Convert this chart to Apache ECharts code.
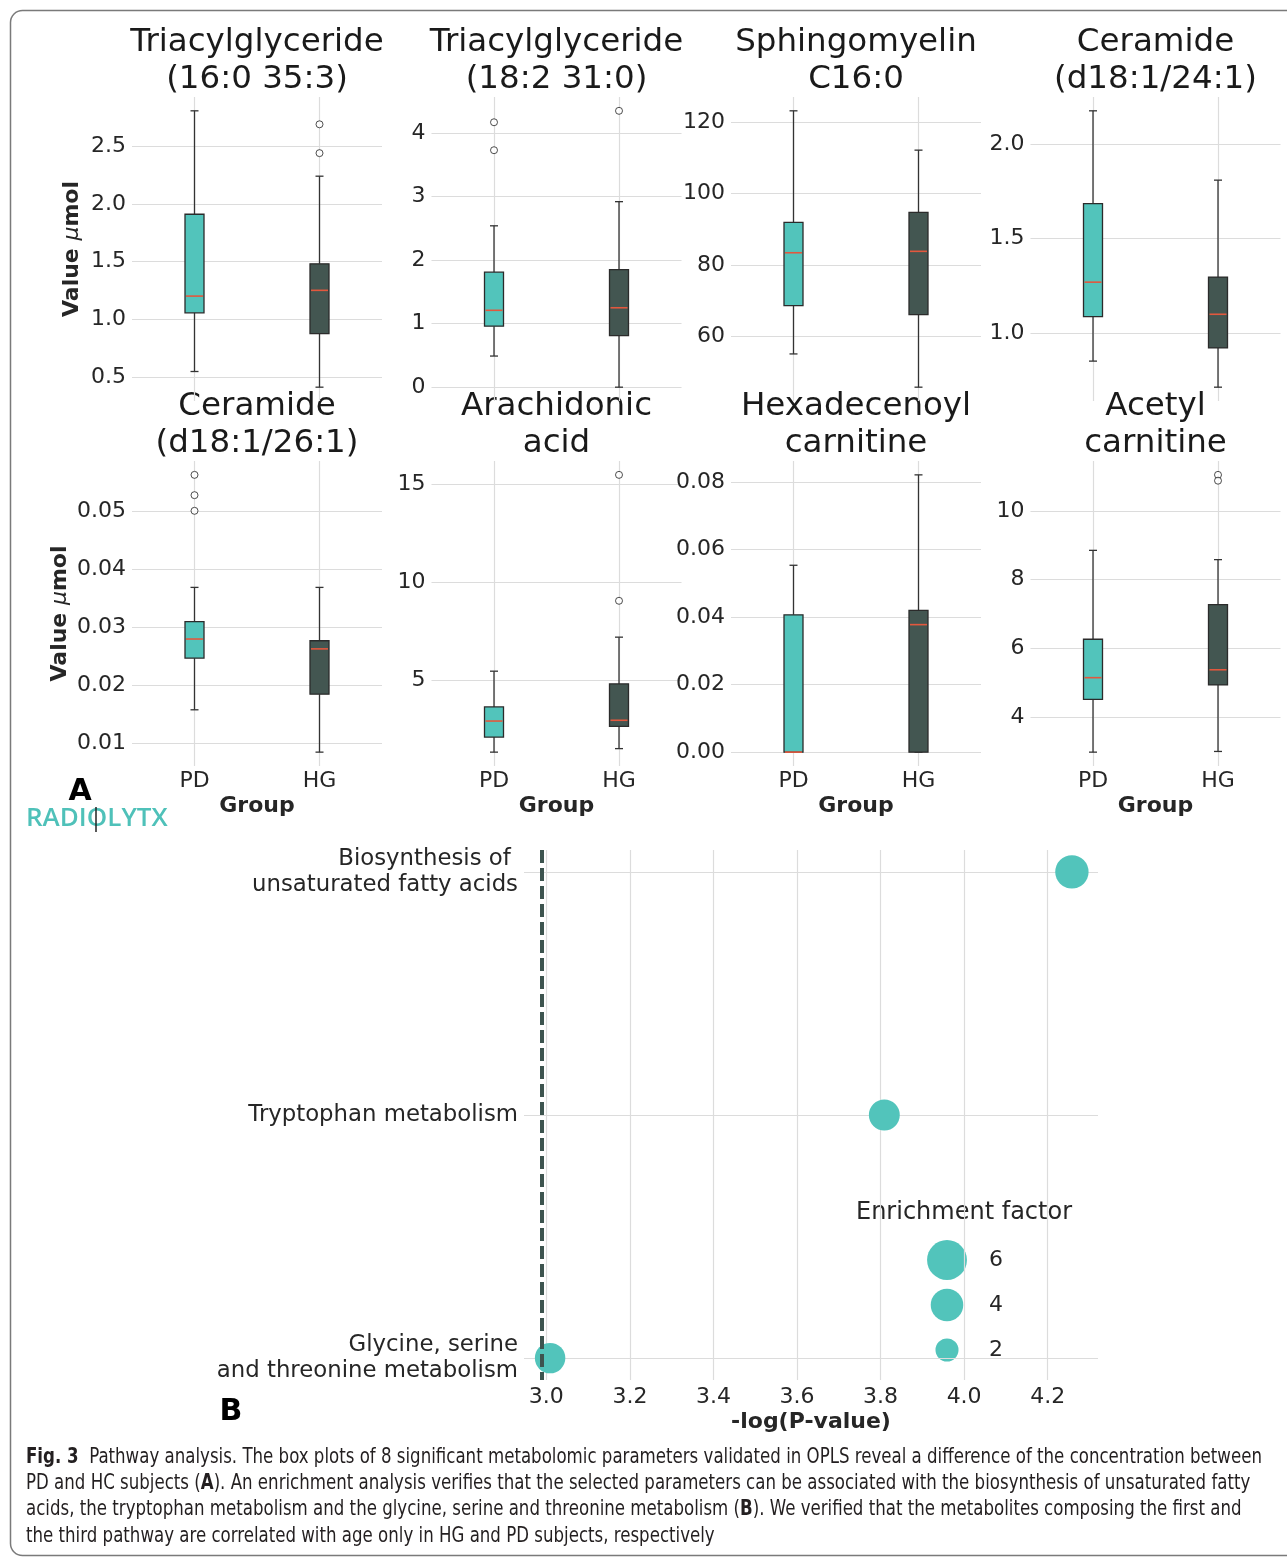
<!DOCTYPE html>
<html>
<head>
<meta charset="utf-8">
<script src="https://cdn.jsdelivr.net/npm/echarts@6/dist/echarts.min.js"></script>
<style>
  html, body { margin: 0; padding: 0; background: #fff; }
  #chart { width: 1287px; height: 1558px; }
</style>
</head>
<body>
<div id="chart"></div>
<script>
// ---- panel A: box plots (PD vs HG) ----
const panelTitles = [
  'Triacylglyceride\n(16:0 35:3)', 'Triacylglyceride\n(18:2 31:0)', 'Sphingomyelin\nC16:0', 'Ceramide\n(d18:1/24:1)',
  'Ceramide\n(d18:1/26:1)', 'Arachidonic\nacid', 'Hexadecenoyl\ncarnitine', 'Acetyl\ncarnitine'
];
const groups = ['PD', 'HG'];
// [low whisker, Q1, median, Q3, high whisker]
const pdBoxes = [
  [0.546, 1.055, 1.20, 1.91, 2.807],
  [0.49, 0.96, 1.21, 1.81, 2.54],
  [55.1, 68.6, 83.4, 91.9, 123.1],
  [0.852, 1.088, 1.27, 1.686, 2.177],
  [0.0157, 0.0246, 0.0279, 0.0309, 0.0368],
  [1.32, 2.09, 2.91, 3.63, 5.46],
  [0, 0, 0, 0.0407, 0.0554],
  [2.97, 4.51, 5.14, 6.26, 8.85]
];
const hgBoxes = [
  [0.41, 0.875, 1.25, 1.48, 2.24],
  [0, 0.81, 1.25, 1.85, 2.92],
  [45.8, 66.1, 83.8, 94.7, 112.1],
  [0.714, 0.922, 1.10, 1.297, 1.81],
  [0.0084, 0.0184, 0.0262, 0.0276, 0.0368],
  [1.50, 2.64, 2.95, 4.81, 7.2],
  [0, 0, 0.0378, 0.042, 0.0822],
  [2.99, 4.93, 5.37, 7.27, 8.58]
];
const pdOutliers = [[], [4.17, 3.73], [], [], [0.0562, 0.0527, 0.0500], [], [], []];
const hgOutliers = [[2.69, 2.44], [4.35], [], [], [], [15.5, 9.06], [], [11.05, 10.88]];
const yTickLabels = [
  ['0.5', '1.0', '1.5', '2.0', '2.5'],
  ['0', '1', '2', '3', '4'],
  ['60', '80', '100', '120'],
  ['1.0', '1.5', '2.0'],
  ['0.01', '0.02', '0.03', '0.04', '0.05'],
  ['5', '10', '15'],
  ['0.00', '0.02', '0.04', '0.06', '0.08'],
  ['4', '6', '8', '10']
];

// ---- panel B: pathway enrichment ----
const pathways = ['Biosynthesis of \nunsaturated fatty acids', 'Tryptophan metabolism', 'Glycine, serine\nand threonine metabolism'];
const negLogP = [4.258, 3.809, 3.009];
const enrichment = [4.2, 3.6, 3.5];
const pTickLabels = ['3.0', '3.2', '3.4', '3.6', '3.8', '4.0', '4.2'];
const legendFactors = [6, 4, 2];
const cutoff = 2.99;

const TEAL = '#52C4BB';
const DARK = '#435651';
const MEDIAN = '#E2583E';
const GRID = '#dcdcdc';
const INK = '#262626';
const FONT = 'DejaVu Sans';

// matplotlib-like 5% padding
function padRange(vals) {
  const lo = Math.min(...vals), hi = Math.max(...vals);
  const m = (hi - lo) * 0.05;
  return [lo - m, hi + m];
}
const sizeOf = ef => Math.sqrt(265 * ef);

function renderBox(params, api) {
  const x = api.value(0);
  const pt = k => api.coord([x, api.value(k)]);
  const lo = pt(1), q1 = pt(2), md = pt(3), q3 = pt(4), hi = pt(5);
  const cx = lo[0], half = 9.5, cap = 4;
  const ink = { stroke: '#333', lineWidth: 1.3 };
  return {
    type: 'group',
    children: [
      { type: 'line', shape: { x1: cx, y1: lo[1], x2: cx, y2: q1[1] }, style: ink },
      { type: 'line', shape: { x1: cx, y1: q3[1], x2: cx, y2: hi[1] }, style: ink },
      { type: 'line', shape: { x1: cx - cap, y1: lo[1], x2: cx + cap, y2: lo[1] }, style: ink },
      { type: 'line', shape: { x1: cx - cap, y1: hi[1], x2: cx + cap, y2: hi[1] }, style: ink },
      { type: 'rect', shape: { x: cx - half, y: q3[1], width: 2 * half, height: q1[1] - q3[1] },
        style: { fill: api.visual('color'), stroke: '#2b2b2b', lineWidth: 1.3 } },
      { type: 'line', shape: { x1: cx - half + 1, y1: md[1], x2: cx + half - 1, y2: md[1] },
        style: { stroke: MEDIAN, lineWidth: 1.6 } }
    ]
  };
}

const tickText = { fontFamily: FONT, fontSize: 22, color: INK };
const grids = [], xAxes = [], yAxes = [], series = [], graphics = [];

for (let i = 0; i < 8; i++) {
  const row = Math.floor(i / 4), col = i % 4;
  grids.push({ left: 132 + 299.5 * col, top: row ? 461 : 97, width: 250, height: row ? 305 : 304, outerBoundsMode: 'none' });
  xAxes.push({
    gridIndex: i, type: 'value', min: -0.5, max: 1.5,
    axisLine: { show: false },
    axisTick: { show: false, customValues: [0, 1] },
    axisLabel: Object.assign({ show: row === 1, customValues: [0, 1], margin: 4,
      formatter: v => groups[Math.round(v)] }, tickText),
    splitLine: { show: true, lineStyle: { color: GRID, width: 1.2 } },
    name: row === 1 ? 'Group' : '', nameLocation: 'middle', nameGap: 29,
    nameTextStyle: { fontFamily: FONT, fontSize: 22, fontWeight: 'bold', color: INK }
  });
  const labels = yTickLabels[i];
  const range = padRange(pdBoxes[i].concat(hgBoxes[i], pdOutliers[i], hgOutliers[i]));
  yAxes.push({
    gridIndex: i, type: 'value', min: range[0], max: range[1],
    axisLine: { show: false },
    axisTick: { show: false, customValues: labels.map(parseFloat) },
    axisLabel: Object.assign({ customValues: labels.map(parseFloat), margin: 6,
      formatter: v => labels.find(s => Math.abs(parseFloat(s) - v) < 1e-9) || '' }, tickText),
    splitLine: { show: true, lineStyle: { color: GRID, width: 1.2 } },
    name: col === 0 ? '{b|Value }{i|μ}{b|mol}' : '',
    nameLocation: 'middle', nameRotate: 90, nameGap: row ? 61 : 49,
    nameTextStyle: { rich: {
      b: { fontFamily: FONT, fontSize: 22, fontWeight: 'bold', color: INK },
      i: { fontFamily: FONT, fontSize: 22, fontStyle: 'italic', color: INK }
    } }
  });
  series.push({
    type: 'custom', xAxisIndex: i, yAxisIndex: i, renderItem: renderBox, z: 3,
    encode: { x: 0, y: [1, 2, 3, 4, 5] },
    data: [
      { value: [0].concat(pdBoxes[i]), itemStyle: { color: TEAL } },
      { value: [1].concat(hgBoxes[i]), itemStyle: { color: DARK } }
    ]
  });
  series.push({
    type: 'scatter', xAxisIndex: i, yAxisIndex: i, symbol: 'circle', symbolSize: 7, z: 4,
    itemStyle: { color: '#fff', borderColor: '#222', borderWidth: 1 },
    data: pdOutliers[i].map(v => [0, v]).concat(hgOutliers[i].map(v => [1, v]))
  });
  graphics.push({
    type: 'text', x: 257 + 299.5 * col, y: row ? 388 : 24,
    style: { text: panelTitles[i], align: 'center', verticalAlign: 'top', fontFamily: FONT,
      fontSize: 32.5, lineHeight: 37, fill: '#1a1a1a' }
  });
}

// panel B
const pRange = padRange(negLogP);
const pTicks = pTickLabels.map(parseFloat);
grids.push({ left: 524, top: 850, width: 574, height: 530, outerBoundsMode: 'none' });
xAxes.push({
  gridIndex: 8, type: 'value', min: pRange[0], max: pRange[1],
  axisLine: { show: false },
  axisTick: { show: false, customValues: pTicks },
  axisLabel: Object.assign({ customValues: pTicks, margin: 6,
    formatter: v => pTickLabels.find(s => Math.abs(parseFloat(s) - v) < 1e-9) || '' }, tickText),
  splitLine: { show: true, lineStyle: { color: GRID, width: 1.2 } },
  name: '-log(P-value)', nameLocation: 'middle', nameGap: 31,
  nameTextStyle: { fontFamily: FONT, fontSize: 22, fontWeight: 'bold', color: INK }
});
yAxes.push({
  gridIndex: 8, type: 'value', inverse: true, min: -0.09, max: 2.09,
  axisLine: { show: false },
  axisTick: { show: false, customValues: [0, 1, 2] },
  axisLabel: { customValues: [0, 1, 2], margin: 6, align: 'right', lineHeight: 26, padding: [18, 0, 0, 0],
    fontFamily: FONT, fontSize: 22.8, color: INK,
    formatter: v => pathways[Math.round(v)] },
  splitLine: { show: true, lineStyle: { color: GRID, width: 1.2 } }
});
series.push({
  type: 'scatter', xAxisIndex: 8, yAxisIndex: 8, z: 3,
  symbolSize: d => sizeOf(d[2]),
  itemStyle: { color: TEAL, opacity: 1 },
  data: negLogP.map((v, k) => [v, k, enrichment[k]])
});
series.push({
  type: 'scatter', xAxisIndex: 8, yAxisIndex: 8, z: 5, data: [],
  markLine: {
    silent: true, symbol: 'none', label: { show: false }, animation: false,
    lineStyle: { color: '#3D544F', type: [13, 5], width: 4 },
    data: [{ xAxis: cutoff }]
  }
});

// legend for enrichment factor
graphics.push({
  type: 'text', x: 964, y: 1213,
  style: { text: 'Enrichment factor', align: 'center', verticalAlign: 'middle', fontFamily: FONT, fontSize: 24, fill: INK }
});
legendFactors.forEach((f, k) => {
  graphics.push({ type: 'circle', shape: { cx: 947, cy: 1260 + 45 * k, r: sizeOf(f) / 2 }, style: { fill: TEAL } });
  graphics.push({
    type: 'text', x: 989, y: 1260 + 45 * k,
    style: { text: String(f), align: 'left', verticalAlign: 'middle', fontFamily: FONT, fontSize: 22, fill: INK }
  });
});

// frame, panel letters, logo, caption
graphics.push({
  type: 'rect', z: -1, shape: { x: 10.5, y: 10.5, width: 1330, height: 1545, r: 12 },
  style: { fill: 'none', stroke: '#7a7a7a', lineWidth: 1.5 }
});
graphics.push({ type: 'text', x: 80, y: 792,
  style: { text: 'A', align: 'center', verticalAlign: 'middle', fontFamily: FONT, fontSize: 30, fontWeight: 'bold', fill: '#000' } });
graphics.push({ type: 'text', x: 231, y: 1412,
  style: { text: 'B', align: 'center', verticalAlign: 'middle', fontFamily: FONT, fontSize: 30, fontWeight: 'bold', fill: '#000' } });
graphics.push({ type: 'text', x: 26, y: 819,
  style: { text: 'RADIOLYTX', align: 'left', verticalAlign: 'middle', fontFamily: 'Open Sans', fontSize: 26, fontWeight: 600, fill: '#4FC1B9' } });
graphics.push({ type: 'line', shape: { x1: 96, y1: 807, x2: 96, y2: 832 }, style: { stroke: '#222', lineWidth: 1.5 } });

const capFont = "'DejaVu Sans Condensed', 'DejaVu Sans', sans-serif";
graphics.push({
  type: 'text', x: 26, y: 1444, scaleX: 0.88, originX: 0,
  style: {
    text: '{b|Fig. 3}  Pathway analysis. The box plots of 8 significant metabolomic parameters validated in OPLS reveal a difference of the concentration between\n' +
      'PD and HC subjects ({b|A}). An enrichment analysis verifies that the selected parameters can be associated with the biosynthesis of unsaturated fatty\n' +
      'acids, the tryptophan metabolism and the glycine, serine and threonine metabolism ({b|B}). We verified that the metabolites composing the first and\n' +
      'the third pathway are correlated with age only in HG and PD subjects, respectively',
    align: 'left', verticalAlign: 'top', fontFamily: capFont, fontSize: 21, lineHeight: 26.3, fill: '#231f20',
    rich: { b: { fontFamily: capFont, fontSize: 21, fontWeight: 'bold', lineHeight: 26.3, fill: '#231f20' } }
  }
});

const chart = echarts.init(document.getElementById('chart'), null, { renderer: 'canvas' });
chart.setOption({
  animation: false,
  backgroundColor: '#fff',
  grid: grids,
  xAxis: xAxes,
  yAxis: yAxes,
  series: series,
  graphic: graphics
});
</script>
</body>
</html>
